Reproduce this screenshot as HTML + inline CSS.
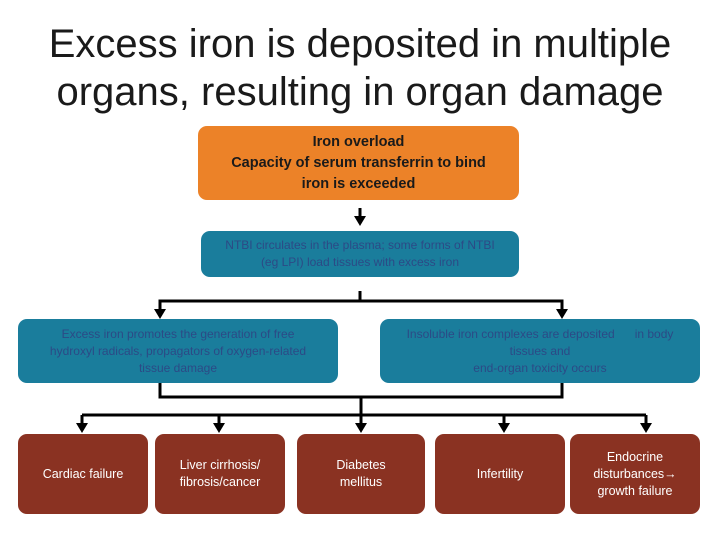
<!DOCTYPE html>
<html><head><meta charset="utf-8"><style>
html,body{margin:0;padding:0;background:#fff;}
body{width:720px;height:540px;position:relative;overflow:hidden;font-family:"Liberation Sans",sans-serif;}
.t{position:absolute;left:0;width:720px;text-align:center;font-size:40px;color:#1a1a1a;line-height:48px;}
.b{position:absolute;display:flex;align-items:center;justify-content:center;text-align:center;box-sizing:border-box;border-radius:9px;}
.o{background:#ec8228;color:#1a1a1a;font-size:14.5px;font-weight:bold;line-height:21px;}
.tl{background:#1a7d9c;color:#2c4a86;font-size:12px;line-height:17px;}
.r{background:#8a3222;color:#fff;font-size:12.5px;line-height:17px;}
</style></head><body>
<div class="t" style="top:20px">Excess iron is deposited in multiple<br>organs, resulting in organ damage</div>
<div class="b o" style="left:198px;top:126px;width:321px;height:74px;">Iron overload<br>Capacity of serum transferrin to bind<br>iron is exceeded</div>
<div class="b tl" style="left:201px;top:231px;width:318px;height:46px;">NTBI circulates in the plasma; some forms of NTBI<br>(eg LPI) load tissues with excess iron</div>
<div class="b tl" style="left:18px;top:319px;width:320px;height:64px;">Excess iron promotes the generation of free<br>hydroxyl radicals, propagators of oxygen-related<br>tissue damage</div>
<div class="b tl" style="left:380px;top:319px;width:320px;height:64px;">Insoluble iron complexes are deposited &nbsp;&nbsp;&nbsp;&nbsp;&nbsp;in body<br>tissues and<br>end-organ toxicity occurs</div>
<div class="b r" style="left:18px;top:434px;width:130px;height:80px;">Cardiac failure</div>
<div class="b r" style="left:155px;top:434px;width:130px;height:80px;">Liver cirrhosis/<br>fibrosis/cancer</div>
<div class="b r" style="left:297px;top:434px;width:128px;height:80px;">Diabetes<br>mellitus</div>
<div class="b r" style="left:435px;top:434px;width:130px;height:80px;">Infertility</div>
<div class="b r" style="left:570px;top:434px;width:130px;height:80px;">Endocrine<br>disturbances→<br>growth failure</div>
<svg width="720" height="540" style="position:absolute;left:0;top:0" fill="#000">
<g stroke="#000" stroke-width="3" fill="none">
<line x1="360" y1="208" x2="360" y2="218"/>
<line x1="360" y1="291" x2="360" y2="302"/>
<polyline points="160,312 160,301 562,301 562,312"/>
<polyline points="160,383 160,397 562,397 562,383"/>
<line x1="361" y1="397" x2="361" y2="424"/>
<line x1="82" y1="415" x2="646" y2="415"/>
<line x1="82" y1="415" x2="82" y2="424"/>
<line x1="219" y1="415" x2="219" y2="424"/>
<line x1="504" y1="415" x2="504" y2="424"/>
<line x1="646" y1="415" x2="646" y2="424"/>
</g>
<polygon points="354,216 366,216 360,226"/>
<polygon points="154,309 166,309 160,319"/>
<polygon points="556,309 568,309 562,319"/>
<polygon points="76,423 88,423 82,433"/>
<polygon points="213,423 225,423 219,433"/>
<polygon points="355,423 367,423 361,433"/>
<polygon points="498,423 510,423 504,433"/>
<polygon points="640,423 652,423 646,433"/>
</svg>
</body></html>
